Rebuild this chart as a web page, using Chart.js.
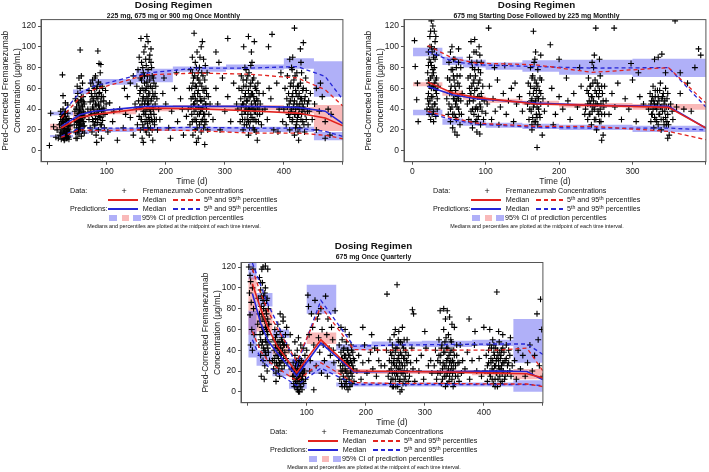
<!DOCTYPE html>
<html>
<head>
<meta charset="utf-8">
<script src="https://cdn.jsdelivr.net/npm/chart.js@4.4.0/dist/chart.umd.min.js"></script>
<style>
  body { margin: 0; width: 709px; height: 472px; overflow: hidden; background: #fff; position: relative;
         font-family: "Liberation Sans", Arial, sans-serif; color: #111; }
  .painel { position: absolute; width: 350px; height: 232px; }
  .painel canvas { position: absolute; left: 0; top: 0; }
  .titulo { position: absolute; left: 0; width: 347px; text-align: center; font-weight: bold; white-space: nowrap; }
  .t { position: absolute; white-space: nowrap; }
  .t sup { font-size: 0.72em; line-height: 0; vertical-align: 0.45em; }
  .ln { position: absolute; height: 1.5px; }
  .sq { position: absolute; width: 7.5px; height: 6px; }
</style>
</head>
<body>
<div class="painel" id="p1" style="left:0;top:0"><canvas id="g1" width="348" height="187"></canvas></div>
<div class="painel" id="p2" style="left:363px;top:0"><canvas id="g2" width="348" height="187"></canvas></div>
<div class="painel" id="p3" style="left:200px;top:241px"><canvas id="g3" width="348" height="187"></canvas></div>
<script>
// ---------- Painel 1: 225 mg, 675 mg or 900 mg Once Monthly ----------
const obsP1 = [
  [3,5],[5,36],[10,23],[14,13],[16,20],[18,12],[20,25],[21,15],[22,30],[22,18],[23,11],[24,22],[24,35],[25,14],[25,28],
  [26,19],[26,40],[27,12],[27,24],[28,33],[28,16],[29,21],[29,11],[30,27],[30,38],[31,15],[31,19],[32,30],[32,12],[33,23],
  [33,17],[34,36],[34,14],[35,26],[35,20],[36,11],[36,31],[37,18],[38,24],[25,73],[26,53],[30,46],[34,44],[22,38],[28,10],
  [23,26],[24,17],[25,33],[26,24],[27,30],[28,21],[29,36],[30,14],[31,25],[32,18],[33,29],[34,21],[35,13],[36,24],[30,33],
  [27,17],[24,28],[33,12],[29,16],[26,33],
  [45,25],[46,38],[47,18],[47,50],[48,30],[49,22],[49,42],[50,12],[50,34],[51,27],[51,55],[52,20],[52,46],[53,31],[53,16],
  [54,39],[54,24],[55,60],[55,29],[56,21],[56,49],[57,35],[57,14],[58,43],[58,26],[59,32],[59,19],[60,52],[60,23],[61,37],
  [61,28],[62,45],[62,17],[63,33],[55,97],[53,70],[57,72],[50,62],[59,65],[48,12],
  [48,40],[49,28],[50,48],[51,20],[52,36],[53,44],[54,30],[55,40],[56,25],[57,52],[58,34],[59,42],[60,28],[61,47],[62,24],
  [50,18],[55,35],[58,48],[52,25],[60,38],
  [68,40],[70,30],[70,58],[72,22],[72,47],[73,65],[74,35],[75,18],[75,52],[76,42],[77,28],[77,62],[78,48],[79,36],[79,24],
  [80,70],[80,55],[81,31],[82,44],[82,15],[83,60],[84,38],[84,27],[85,50],[85,96],[86,20],[86,66],[87,43],[88,33],[88,56],
  [89,25],[89,75],[90,47],[91,38],[91,12],[92,62],[93,29],[94,52],[95,41],[96,22],[97,35],[98,58],[87,84],[90,83],[83,8],[99,45],
  [73,38],[74,55],[76,30],[77,50],[78,40],[79,60],[80,25],[81,45],[82,35],[83,52],[84,62],[85,30],[86,44],[87,55],[88,40],
  [89,64],[90,32],[91,52],[92,40],[93,60],[94,35],[95,48],[76,68],[81,72],[86,35],[91,25],
  [102,18],[105,46],[110,28],[118,10],[122,40],[128,22],[135,52],[140,32],[145,15],[132,35],[112,38],[148,45],[140,65],[145,72],[130,60],
  [150,40],[151,62],[152,25],[153,78],[154,48],[155,33],[155,90],[156,55],[157,20],[157,70],[158,42],[159,85],[159,30],[160,60],[160,12],
  [161,50],[162,75],[162,38],[163,95],[163,22],[164,65],[164,45],[165,28],[165,100],[166,58],[166,35],[167,82],[167,18],[168,52],[168,40],
  [169,72],[169,26],[170,62],[170,105],[171,45],[171,32],[172,88],[172,15],[173,55],[173,68],[174,38],[174,22],[175,48],[176,80],[176,30],
  [177,60],[178,42],[178,10],[179,70],[180,35],[180,52],[181,25],[182,45],[183,62],[184,30],[185,50],[158,108],[168,110],[175,98],[162,8],
  [156,42],[157,58],[158,30],[159,68],[160,45],[161,25],[161,80],[162,52],[163,35],[164,72],[165,48],[166,20],[166,88],[167,60],[168,30],
  [169,45],[170,78],[170,22],[171,55],[172,40],[173,92],[173,28],[174,62],[175,35],[176,50],[177,72],[177,20],[178,55],[179,40],[180,65],
  [181,30],[182,55],[160,72],[165,38],[170,50],[175,85],[163,58],[168,66],[172,30],[178,28],
  [186,20],[188,40],[190,30],[195,55],[200,45],[205,22],[197,70],[210,38],[215,60],[220,28],[225,50],[230,15],[218,75],[208,12],[228,40],[235,33],
  [238,40],[240,60],[241,25],[242,78],[243,50],[244,35],[245,90],[246,15],[246,65],[247,45],[248,30],[249,72],[249,55],[250,20],[250,85],
  [251,40],[252,62],[252,28],[253,95],[253,48],[254,35],[254,70],[255,12],[255,58],[256,42],[257,80],[257,25],[258,52],[258,65],[259,38],
  [260,100],[260,18],[261,48],[261,75],[262,30],[263,58],[263,42],[264,88],[264,22],[265,50],[266,68],[266,35],[267,45],[268,28],[268,60],
  [269,40],[270,75],[271,20],[272,52],[273,35],[275,45],[248,113],[262,105],[252,8],[266,6],
  [243,42],[244,60],[245,28],[246,52],[247,70],[248,38],[249,45],[250,62],[251,30],[252,80],[253,22],[254,55],[255,42],[256,68],[257,35],
  [258,90],[259,48],[260,28],[261,62],[262,40],[263,72],[264,35],[265,58],[266,25],[267,82],[268,45],[269,55],[250,50],[255,75],[260,40],
  [245,75],[265,30],
  [280,30],[285,60],[288,45],[292,20],[296,70],[300,38],[305,52],[310,28],[315,65],[290,85],[285,95],[305,108],[320,45],
  [322,40],[324,60],[326,28],[327,50],[328,72],[329,35],[330,45],[331,20],[332,62],[333,38],[334,80],[334,30],[335,55],[336,42],[337,68],
  [337,25],[338,48],[339,35],[340,58],[340,15],[341,75],[342,40],[343,52],[343,28],[344,65],[345,45],[346,32],[346,85],[347,55],[348,22],
  [348,40],[349,70],[350,48],[351,30],[352,60],[352,38],[353,18],[354,50],[355,42],[356,65],[357,28],[358,55],[359,35],[360,45],[362,25],
  [364,38],[345,95],[350,105],[340,110],[332,100],[355,10],[365,55],[368,40],
  [328,42],[329,58],[330,30],[331,68],[332,45],[333,25],[334,52],[335,38],[336,62],[337,48],[338,30],[339,72],[340,40],[341,52],[342,22],
  [343,62],[344,35],[345,55],[346,42],[347,68],[348,30],[349,52],[350,38],[351,62],[352,45],[353,28],[354,58],[355,35],[356,48],[358,40],
  [336,78],[344,82],[350,20],[340,28],
  [372,30],[378,50],[383,20],[388,65],[392,40],[395,75],[375,60],[398,28],[380,112],[374,100],[390,18],
  [400,40],[402,60],[404,25],[405,50],[406,72],[408,35],[409,45],[410,20],[411,62],[412,38],[413,80],[414,28],[415,55],[416,42],[417,68],
  [418,15],[418,48],[419,35],[420,58],[421,25],[422,75],[422,45],[423,32],[424,52],[425,62],[426,40],[427,22],[428,50],[429,85],[430,35],
  [431,45],[432,28],[433,60],[434,40],[435,18],[436,52],[437,70],[438,30],[440,45],[441,25],[443,38],[445,55],[418,118],[428,98],[433,104],
  [415,90],[425,10],[410,88],
  [406,42],[408,55],[410,32],[411,48],[412,65],[413,40],[414,52],[415,30],[416,62],[417,45],[418,35],[419,72],[420,40],[421,55],[422,28],
  [423,62],[424,42],[425,35],[426,55],[427,45],[428,65],[429,30],[430,50],[431,38],[432,58],[433,42],[434,25],[435,48],[436,35],[438,58],
  [440,38],[442,48],[420,22],[430,75],[414,78],[424,18],
  [448,30],[452,45],[455,20],[460,38],[465,52],[470,28],[475,40],[478,15],[462,65],[470,12],[480,35],[455,60]
];
const tempoP1 = [23, 54, 78, 167, 251, 340, 423, 470, 500];
const medObsP1 = [21.8, 32, 34.6, 41, 40.4, 38.5, 36.2, 31.4, 24];
const p5ObsP1 = [12.8, 20.2, 19.3, 20.2, 19.3, 17, 17, 14.8, 11.5];
const p95ObsP1 = [31.5, 50.7, 58.7, 73, 74.7, 73.7, 70, 58.7, 43];
const medPredP1 = [23.4, 34.6, 38, 42.7, 42.7, 42.7, 41.7, 38, 26];
const p5PredP1 = [13.8, 21.8, 21.8, 21.8, 22.5, 21.8, 21.8, 18.6, 13.8];
const p95PredP1 = [35, 55.5, 62, 74.7, 79.5, 79.5, 81, 71.5, 49];
const binsP1 = [4, 43, 70, 150, 212, 302, 400, 451, 500];
const ciP5P1 = [[13,15],[16,20],[18,22],[19,23],[19,23],[18,23],[18,23],[10,18]];
const ciMedP1 = [[20,26],[31,37],[35,40],[38,43],[39,44],[39,44],[36,42],[19,44]];
const ciP95P1 = [[34,37.5],[54.5,59],[63.5,69],[66,79],[76,81],[78,83],[79,89],[52,86]];

// ---------- Painel 2: 675 mg Starting Dose Followed by 225 mg Monthly ----------
const obsP2 = [
  [3,106],[4,81],[6,49],[8,28],[7,65],
  [20,40],[21,75],[22,55],[22,95],[23,35],[23,65],[24,110],[24,48],[25,85],[25,30],[26,60],[26,100],[27,42],[27,72],[28,120],
  [28,52],[29,90],[29,38],[30,65],[30,80],[31,45],[31,105],[32,58],[32,33],[33,70],[33,92],[34,50],[34,40],[26,125],[30,115],
  [22,82],[35,62],[29,28],[24,62],[28,78],
  [21,50],[22,68],[23,88],[24,40],[25,70],[26,52],[27,95],[28,62],[29,75],[30,45],[31,88],[32,68],[33,55],[24,100],[27,35],
  [30,98],[26,82],[32,110],[22,45],[29,60],[25,115],[31,60],
  [47,50],[48,70],[49,35],[50,85],[51,55],[52,28],[52,95],[53,62],[54,42],[55,78],[55,22],[56,50],[57,68],[57,35],[58,88],
  [59,45],[59,58],[60,30],[61,72],[61,15],[62,52],[63,40],[63,98],[64,62],[65,25],[66,48],[66,80],[67,35],[68,55],[58,18],[54,100],
  [50,45],[51,68],[52,40],[53,78],[54,55],[55,35],[56,88],[57,50],[58,62],[59,32],[60,80],[61,42],[62,65],[63,50],[64,35],
  [65,72],[52,58],[56,72],[60,48],[63,85],
  [75,45],[76,70],[77,30],[78,90],[79,55],[80,38],[80,105],[81,62],[82,22],[82,80],[83,48],[84,35],[84,95],[85,58],[86,28],
  [86,72],[87,42],[88,85],[88,18],[89,52],[90,65],[90,33],[91,100],[92,45],[93,25],[93,75],[94,55],[95,38],[96,62],[97,30],
  [85,107],[92,16],[98,48],[100,36],[78,60],
  [78,48],[79,72],[80,55],[81,85],[82,40],[83,65],[84,52],[85,78],[86,40],[87,95],[88,60],[89,40],[90,78],[91,52],[92,68],
  [93,42],[94,85],[95,50],[80,28],[88,30],[84,68],[92,92],
  [102,45],[105,62],[108,30],[110,50],[113,38],[116,68],[120,42],[124,55],[128,35],[131,48],[135,60],[138,28],[142,45],[146,52],
  [150,38],[118,25],[126,82],[104,118],[140,65],[112,80],
  [157,45],[158,65],[159,30],[160,55],[161,80],[162,38],[163,50],[163,20],[164,72],[165,42],[166,60],[166,28],[167,88],[168,48],
  [169,35],[169,65],[170,52],[171,25],[171,78],[172,40],[173,58],[174,32],[175,45],[176,68],[177,15],[178,50],[165,115],[170,3],
  [168,95],[180,38],[175,92],
  [160,40],[161,62],[162,48],[163,70],[164,32],[165,55],[166,45],[167,68],[168,28],[169,58],[170,42],[171,62],[172,50],[173,35],
  [174,70],[175,55],[166,85],[170,32],[163,25],
  [185,45],[190,60],[195,35],[200,52],[205,40],[210,70],[215,30],[220,55],[225,42],[230,62],[200,88],[235,35],[192,25],[212,48],
  [228,80],[188,102],[250,118],
  [236,40],[238,58],[239,30],[240,70],[241,48],[242,35],[243,62],[244,25],[245,52],[246,42],[247,80],[248,30],[249,58],[250,45],
  [251,20],[252,65],[253,38],[254,52],[255,28],[256,72],[257,45],[258,35],[259,55],[260,15],[261,42],[262,62],[248,92],[255,88],
  [258,10],[245,85],[264,48],
  [239,45],[240,55],[241,35],[242,62],[243,45],[244,52],[245,38],[246,65],[247,48],[248,40],[249,68],[250,30],[251,55],[252,45],
  [253,62],[254,35],[255,58],[256,40],[257,28],[258,62],[260,48],[262,35],
  [268,35],[272,55],[276,42],[280,65],[285,30],[290,50],[295,40],[300,68],[305,28],[310,52],[315,45],[275,118],[298,84],[308,75],
  [322,40],[324,55],[325,28],[326,48],[327,35],[328,62],[329,22],[330,45],[331,52],[332,30],[333,40],[334,58],[335,25],[336,48],
  [337,35],[338,65],[339,20],[340,42],[341,52],[342,30],[343,45],[344,38],[345,60],[346,25],[347,50],[348,35],[349,42],[350,15],
  [352,45],[354,38],[335,90],[340,93],[330,88],[345,75],[355,30],[348,12],
  [325,45],[326,35],[327,52],[328,40],[329,48],[330,32],[331,58],[332,42],[333,28],[334,45],[335,52],[336,35],[337,58],[338,42],
  [339,30],[340,50],[341,38],[342,55],[343,25],[344,48],[345,32],[346,42],[347,28],[348,55],[349,25],
  [360,42],[365,55],[370,40],[375,65],[380,38],[385,80],[390,98],[393,92],[365,75],[358,125]
];
const tempoP2 = [21, 55, 87, 168, 245, 349, 400];
const medObsP2 = [66, 55.5, 51.3, 44.9, 43.6, 41.7, 21.8];
const p5ObsP2 = [37.9, 31.5, 26.6, 23.4, 23.4, 18.6, 10.6];
const p95ObsP2 = [101.3, 89, 84.3, 82.7, 75.4, 80, 45.9];
const medPredP2 = [61.9, 53.9, 50, 45.8, 43.6, 42.7, 21.8];
const p5PredP2 = [36.3, 29.9, 25.7, 22.4, 21.8, 21.8, 20];
const p95PredP2 = [95.5, 86, 82.7, 81, 79.5, 80, 42];
const binsP2 = [1, 41, 69, 100, 150, 200, 300, 400];
const ciP5P2 = [[34,39.5],[25,31],[24,29],[22,27],[21,26],[20,25],[18,24]];
const ciMedP2 = [[62,66],[53,58],[49,53],[46,50],[44,48],[41.5,46],[39.5,45]];
const ciP95P2 = [[91,99],[82.5,90.5],[80,87.5],[78,85],[76,87],[73,87.5],[71,88.5]];

// ---------- Painel 3: 675 mg Once Quarterly ----------
const obsP3 = [
  [2,120],[4,112],[5,106],[3,95],[6,86],[4,74],[7,60],[5,45],[8,100],[9,118],[10,80],[8,40],[11,55],
  [17,65],[18,90],[19,45],[20,110],[20,75],[21,55],[22,98],[22,35],[23,82],[24,62],[24,118],[25,48],[25,105],[26,72],[26,30],
  [27,92],[27,58],[28,40],[28,85],[29,68],[29,25],[30,100],[30,50],[31,78],[31,35],[32,60],[32,88],[33,45],[33,20],[34,70],
  [34,55],[35,38],[35,80],[36,48],[37,30],[26,120],[30,121],[34,118],[23,15],[28,12],[36,65],
  [21,68],[22,50],[23,92],[24,75],[25,58],[26,88],[27,42],[28,70],[29,95],[30,62],[31,48],[32,75],[33,58],[34,42],[35,65],
  [22,105],[27,80],[30,38],[24,45],[33,90],
  [42,30],[43,50],[44,22],[45,40],[46,60],[46,28],[47,45],[48,18],[48,35],[49,55],[50,25],[50,42],[51,65],[52,32],[52,20],
  [53,48],[54,38],[54,15],[55,58],[56,28],[56,42],[57,35],[58,22],[58,52],[59,40],[60,30],[60,68],[61,45],[62,25],[63,38],
  [64,55],[65,32],[55,75],[60,72],[48,10],[66,45],[68,28],[70,40],[72,55],[74,22],[66,62],
  [45,32],[47,52],[49,28],[50,48],[51,35],[53,25],[55,45],[56,35],[57,50],[58,30],[59,48],[61,35],[62,45],[52,42],[54,28],
  [76,15],[77,28],[78,8],[79,20],[80,35],[80,12],[81,25],[82,5],[82,18],[83,30],[84,10],[84,22],[85,2],[85,15],[86,28],
  [87,8],[87,20],[88,32],[88,12],[89,25],[90,5],[90,18],[91,30],[92,10],[92,22],[93,15],[94,28],[95,8],[96,20],[97,35],
  [98,12],[84,40],[90,45],[86,52],[80,48],[94,42],[88,0],
  [78,15],[79,5],[80,22],[81,10],[82,28],[83,15],[84,2],[85,25],[86,12],[87,30],[88,18],[89,5],[90,25],[91,12],[92,2],
  [93,22],[94,10],[95,18],[86,0],[82,8],
  [100,40],[102,93],[104,55],[106,30],[108,75],[110,62],[112,45],[114,88],[116,25],[118,70],[120,52],[122,38],[124,80],[126,60],
  [128,45],[130,30],[132,92],[134,55],[136,70],[138,42],[140,35],[142,62],[144,50],[146,28],[148,78],[105,20],[125,18],[135,15],
  [112,2],[145,40],[120,75],[103,82],
  [154,30],[155,45],[156,12],[157,25],[158,38],[159,8],[160,50],[160,20],[161,32],[162,15],[163,42],[164,5],[164,28],[165,22],
  [166,35],[167,10],[167,48],[168,18],[169,30],[170,2],[170,40],[171,25],[172,12],[173,35],[174,20],[175,45],[175,8],[176,28],
  [177,15],[178,38],[179,22],[180,10],[181,30],[172,55],[165,60],[158,62],
  [158,20],[159,32],[160,5],[161,25],[162,40],[163,12],[164,35],[165,8],[166,20],[167,30],[168,5],[169,40],[170,15],[171,35],
  [172,25],[173,5],[174,30],[175,18],[176,40],[177,8],[178,25],[179,32],[163,28],[170,28],
  [185,20],[188,35],[192,12],[195,28],[198,45],[202,18],[205,30],[208,38],[212,22],[215,42],[218,15],[222,30],[226,25],[195,62],
  [210,55],[220,40],
  [232,25],[235,40],[238,15],[240,30],[241,50],[242,8],[243,22],[244,35],[245,45],[246,12],[247,28],[248,55],[249,18],[250,38],
  [251,5],[252,25],[253,42],[254,15],[255,32],[256,48],[257,10],[258,22],[259,38],[260,28],[261,2],[262,45],[263,18],[264,32],
  [265,12],[266,25],[267,40],[268,8],[269,30],[270,20],[272,35],[274,15],[276,28],[278,42],[280,22],[283,10],[286,30],[250,60],
  [256,58],[262,62],[236,94],[253,103],[279,79],[281,75],[245,5],[258,0],[270,50],
  [240,20],[242,38],[243,12],[244,28],[245,18],[246,40],[247,5],[248,32],[249,25],[250,12],[251,42],[252,18],[253,30],[254,5],
  [255,22],[256,35],[257,28],[258,12],[259,48],[260,18],[261,35],[262,25],[263,8],[264,42],[265,20],[266,32],[267,15],[268,38],
  [270,28],[272,10],[255,50],[265,50],
  [290,20],[294,35],[298,12],[302,42],[306,25],[310,30],[300,58],[312,18],
  [316,25],[318,40],[320,12],[322,30],[324,50],[326,18],[327,35],[328,8],[329,45],[330,22],[331,28],[332,60],[333,15],[334,38],
  [335,5],[336,25],[337,42],[338,18],[339,32],[340,55],[341,10],[342,28],[343,38],[344,20],[345,48],[346,12],[347,30],[348,22],
  [349,40],[350,8],[352,25],[354,35],[356,15],[358,28],[360,45],[362,18],[364,30],[335,70],[338,78],[342,72],[346,65],[350,62],
  [332,80],[326,78],
  [322,18],[324,35],[326,28],[328,42],[330,12],[332,38],[333,25],[334,48],[336,15],[337,30],[338,8],[339,42],[340,22],[341,35],
  [342,15],[344,30],[345,25],[346,40],[347,18],[348,5],[349,28],[350,35],[352,15],[354,45],[356,28],[358,10],[336,52],[344,50],
  [368,22],[372,38],[376,12],[380,30],[384,45],[388,20],[392,32],[396,15],[375,70],[385,58],[400,62],
  [402,20],[404,35],[406,10],[408,28],[410,45],[411,15],[412,32],[414,22],[415,50],[416,8],[417,38],[418,25],[419,12],[420,42],
  [421,30],[422,18],[423,5],[424,35],[425,25],[426,48],[427,15],[428,32],[429,22],[430,40],[431,10],[432,28],[433,20],[434,38],
  [435,12],[436,30],[438,45],[440,18],[442,28],[444,35],[446,15],[448,25],[422,96],[425,58],[432,55],[410,60],
  [406,25],[408,40],[410,18],[412,28],[413,42],[414,12],[415,30],[416,20],[417,45],[418,35],[419,5],[420,25],[421,18],[422,32],
  [423,40],[424,12],[425,30],[426,22],[427,38],[428,8],[429,35],[430,25],[431,18],[432,42],[434,28],[436,15],[438,32],[440,25],
  [442,40],[444,20],
  [452,30],[455,12],[458,40],[462,22],[466,35],[470,15],[474,28],[478,45],[482,20],[486,35],[490,75],[494,25],[496,89],[498,60],
  [500,15],[492,50],[445,52]
];
const tempoP3 = [8, 22, 35, 50, 83, 124, 180, 250, 340, 420, 473, 500];
const medObsP3 = [104, 80, 61, 44, 18.4, 50, 20, 19.5, 19, 18, 17.3, 13.4];
const p5ObsP3 = [58, 39, 29.5, 23, 10.5, 28, 8.9, 8, 8, 7.5, 7.5, 5];
const p95ObsP3 = [118, 94.6, 77, 61, 29.5, 82, 40.6, 40, 40, 40, 42, 20];
const medPredP3 = [94.6, 66, 48.6, 37.5, 15.2, 47, 19, 19.5, 19.5, 20, 19.5, 11.5];
const p5PredP3 = [50, 32, 24, 18, 6, 22.8, 7, 7, 7, 7, 7, 6];
const p95PredP3 = [124, 102.5, 83.5, 66, 24.8, 88, 43.8, 45, 45.5, 46, 46, 36];
const binsP3 = [1, 15, 42, 70, 100, 150, 210, 295, 380, 450, 500];
const ciP5P3 = [[33,78],[25,40],[15,22],[3,9],[17,30],[5,9],[5,9],[5,9],[5,9],[0,11]];
const ciMedP3 = [[55,110],[58,80],[36,46],[14,22],[46,57],[17,22],[17,21],[17,21],[16,21],[12,22]];
const ciP95P3 = [[108,127],[82,95],[52,60],[20,32],[75,103],[40,46],[43.5,48.5],[43,49],[44,50],[28,70]];

const subtitulos = ['225 mg, 675 mg or 900 mg Once Monthly', '675 mg Starting Dose Followed by 225 mg Monthly', '675 mg Once Quarterly'];
const ticksY = [0, 20, 40, 60, 80, 100, 120];

const VERMELHO = '#e2231f';
const AZUL = '#2626d6';
const AZUL_CI = 'rgba(80,80,240,0.45)';
const ROSA_CI = 'rgba(240,80,80,0.4)';

Chart.defaults.font.family = '"Liberation Sans", Arial, sans-serif';

const moldura = {
  id: 'moldura',
  afterDraw(chart) {
    const { ctx, chartArea: a } = chart;
    ctx.save();
    ctx.strokeStyle = '#555';
    ctx.lineWidth = 1;
    ctx.strokeRect(a.left, a.top, a.right - a.left, a.bottom - a.top);
    ctx.restore();
  }
};

function montarTextos(painel, subtitulo) {
  const el = document.getElementById(painel);
  const txt = (html, x, y, size, extra = '') =>
    `<span class="t" style="left:${x}px;top:${y - size * 0.6}px;font-size:${size}px;line-height:${size * 1.2}px;${extra}">${html}</span>`;
  const linha = (x, y, w, cor, tracejada) =>
    `<div class="ln" style="left:${x}px;top:${Math.round(y) - 1}px;width:${w}px;background:${tracejada ? `repeating-linear-gradient(90deg,${cor} 0 4.5px,transparent 4.5px 7.5px)` : cor}"></div>`;
  const pct = '5<sup>th</sup> and 95<sup>th</sup> percentiles';
  let html = '';
  html += `<div class="titulo" style="top:0;font-size:9.8px;line-height:10px">Dosing Regimen</div>`;
  html += `<div class="titulo" style="top:11.5px;font-size:6.9px;line-height:8px">${subtitulo}</div>`;
  html += txt('Data:', 70, 191.7, 7.2);
  html += txt('+', 121.5, 191.3, 9);
  html += txt('Fremanezumab Concentrations', 142.7, 191.7, 7.2);
  html += linha(108, 200.3, 30, VERMELHO, false);
  html += txt('Median', 142.7, 200.3, 7.2);
  html += linha(172.7, 200.3, 27.5, VERMELHO, true);
  html += txt(pct, 204, 200.3, 7.2);
  html += txt('Predictions:', 70, 209, 7.2);
  html += linha(108, 209, 30, AZUL, false);
  html += txt('Median', 142.7, 209, 7.2);
  html += linha(172.7, 209, 27.5, AZUL, true);
  html += txt(pct, 204, 209, 7.2);
  html += `<div class="sq" style="left:109px;top:215px;background:#b0b0f8"></div>`;
  html += `<div class="sq" style="left:121.5px;top:215px;background:#f9b9b9"></div>`;
  html += `<div class="sq" style="left:133px;top:215px;background:#b0b0f8"></div>`;
  html += txt('95% CI of prediction percentiles', 142, 218.2, 7.2);
  html += `<div class="t" style="left:0;width:348px;text-align:center;top:223px;font-size:5.4px;line-height:6.5px">Medians and percentiles are plotted at the midpoint of each time interval.</div>`;
  el.insertAdjacentHTML('beforeend', html);
}

function criarGrafico(canvas, d) {
  const pts = (ys) => d.tempo.map((x, i) => ({ x, y: ys[i] }));
  const degraus = (pares, k) => d.bins.map((x, i) => ({ x, y: pares[Math.min(i, pares.length - 1)][k] }));
  const faixa = (pares, cor) => [
    { type: 'line', data: degraus(pares, 0), stepped: true, borderWidth: 0, pointRadius: 0, fill: false, order: 10 },
    { type: 'line', data: degraus(pares, 1), stepped: true, borderWidth: 0, pointRadius: 0, fill: '-1', backgroundColor: cor, order: 10 }
  ];
  const curva = (ys, cor, tracejada) => ({
    type: 'line', data: pts(ys), borderColor: cor, borderWidth: tracejada ? 1.3 : 1.6,
    borderDash: tracejada ? [4, 3] : [], pointRadius: 0, tension: 0, fill: false, order: tracejada ? 2 : 1
  });
  return new Chart(canvas, {
    type: 'scatter',
    data: {
      datasets: [
        ...faixa(d.ciP5, AZUL_CI),
        ...faixa(d.ciMed, ROSA_CI),
        ...faixa(d.ciP95, AZUL_CI),
        { data: d.obs.map(([x, y]) => ({ x, y })), pointStyle: 'cross', pointRadius: 3, borderWidth: 1.1,
          borderColor: '#000', backgroundColor: '#000', order: 5 },
        curva(d.p95Obs, VERMELHO, true),
        curva(d.p5Obs, VERMELHO, true),
        curva(d.p95Pred, AZUL, true),
        curva(d.p5Pred, AZUL, true),
        curva(d.medObs, VERMELHO, false),
        curva(d.medPred, AZUL, false)
      ]
    },
    options: {
      responsive: false,
      animation: false,
      events: [],
      layout: { padding: { top: d.topo, right: 4, left: 0, bottom: 0 } },
      plugins: { legend: { display: false }, tooltip: { enabled: false } },
      scales: {
        x: {
          type: 'linear', min: -11.3, max: d.xMax,
          afterBuildTicks: (s) => { s.ticks = d.xTicks.map(v => ({ value: v })); },
          afterFit: (s) => { s.height = 25.3; },
          ticks: { callback: (v) => d.xRotulos.includes(v) ? String(v) : '', font: { size: 8.5 }, color: '#222',
                   padding: 2, maxRotation: 0, autoSkip: false },
          grid: { drawOnChartArea: false, tickLength: 3, color: '#555' },
          border: { color: '#555' },
          title: { display: true, text: 'Time (d)', font: { size: 8.5 }, color: '#222', padding: { top: 0, bottom: 0.5 } }
        },
        y: {
          min: d.yMin, max: d.yMax,
          afterBuildTicks: (s) => { s.ticks = ticksY.map(v => ({ value: v })); },
          afterFit: (s) => { s.width = 41; },
          ticks: { font: { size: 8.5 }, color: '#222', padding: 2, autoSkip: false },
          grid: { drawOnChartArea: false, tickLength: 3, color: '#555' },
          border: { color: '#555' },
          title: { display: true, text: ['Pred-Corrected Fremanezumab', 'Concentration (µg/mL)'],
                   font: { size: 8.5, lineHeight: 1.35 }, color: '#222', padding: 0 }
        }
      }
    },
    plugins: [moldura]
  });
}

montarTextos('p1', subtitulos[0]);
montarTextos('p2', subtitulos[1]);
montarTextos('p3', subtitulos[2]);

criarGrafico(document.getElementById('g1'), {
  obs: obsP1, tempo: tempoP1, medObs: medObsP1, p5Obs: p5ObsP1, p95Obs: p95ObsP1,
  medPred: medPredP1, p5Pred: p5PredP1, p95Pred: p95PredP1,
  bins: binsP1, ciP5: ciP5P1, ciMed: ciMedP1, ciP95: ciP95P1,
  xMax: 500, xTicks: [0, 100, 200, 300, 400, 500], xRotulos: [100, 200, 300, 400],
  topo: 19.6, yMin: -10.6, yMax: 126.2
});
criarGrafico(document.getElementById('g2'), {
  obs: obsP2, tempo: tempoP2, medObs: medObsP2, p5Obs: p5ObsP2, p95Obs: p95ObsP2,
  medPred: medPredP2, p5Pred: p5PredP2, p95Pred: p95PredP2,
  bins: binsP2, ciP5: ciP5P2, ciMed: ciMedP2, ciP95: ciP95P2,
  xMax: 400, xTicks: [0, 100, 200, 300, 400], xRotulos: [0, 100, 200, 300],
  topo: 19.6, yMin: -10.6, yMax: 126.2
});
criarGrafico(document.getElementById('g3'), {
  obs: obsP3, tempo: tempoP3, medObs: medObsP3, p5Obs: p5ObsP3, p95Obs: p95ObsP3,
  medPred: medPredP3, p5Pred: p5PredP3, p95Pred: p95PredP3,
  bins: binsP3, ciP5: ciP5P3, ciMed: ciMedP3, ciP95: ciP95P3,
  xMax: 500, xTicks: [0, 100, 200, 300, 400, 500], xRotulos: [100, 200, 300, 400],
  topo: 21.5, yMin: -10.5, yMax: 124.4
});
</script>
</body>
</html>
